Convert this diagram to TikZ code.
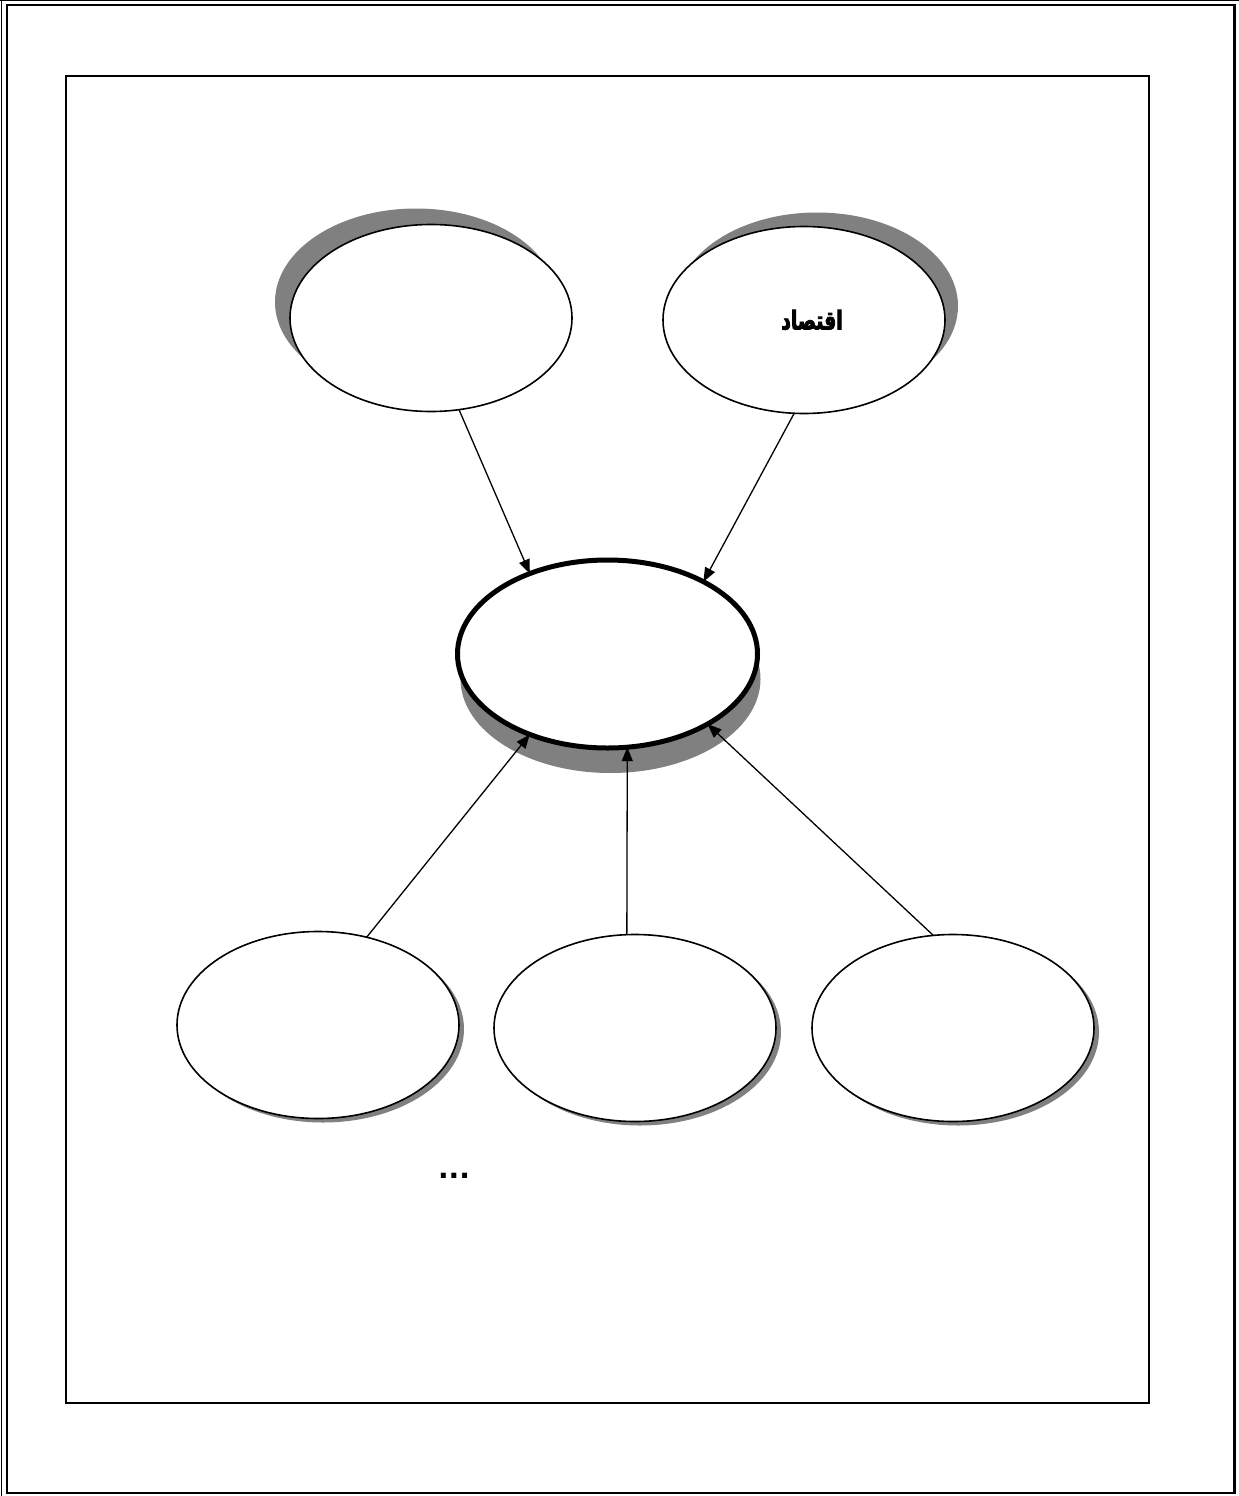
\documentclass[tikz,border=0pt]{standalone}
\usepackage{fontspec}
\TeXXeTstate=1
\newfontfamily\arabicheavy[Script=Arabic, UprightFont={* Bold},
  UprightFeatures={FakeBold=3, FakeStretch=0.72}]{DejaVu Sans}
\newfontfamily\dotfont{DejaVu Sans}
\usetikzlibrary{shapes.geometric,arrows.meta,shadows}
\definecolor{shadowgray}{RGB}{128,128,128}

\begin{document}
\begin{tikzpicture}[x=1pt,y=-1pt,
  bubble/.style={ellipse, draw, fill=white, line width=1.6pt, inner sep=0pt,
    outer sep=0pt, minimum width=282pt, minimum height=187pt},
  core/.style={bubble, line width=5pt, minimum width=300pt, minimum height=188pt},
  castshadow/.style 2 args={drop shadow={shadow xshift=#1, shadow yshift=#2,
    fill=shadowgray, opacity=1}},
  link/.style={line width=1.3pt, -{Triangle[length=14pt,width=11pt]}}
]
\useasboundingbox (0,0) rectangle (1239,1496);

% page border
\draw[line width=1.2pt] (1.5,0) -- (1.5,1496);
\draw[line width=1.2pt] (0,0.7) -- (1239,0.7);
\draw[line width=2.4pt] (7,5) rectangle (1234.5,1493);

% inner frame
\draw[line width=2.2pt] (66,76) rectangle (1149,1403);

% top bubbles
\node[bubble, castshadow={-15pt}{16pt}] (tl) at (431,318) {};
\node[bubble, castshadow={13pt}{14pt}] (tr) at (804,320) {};
\node[font=\arabicheavy\fontsize{26}{30}\selectfont] (econ) at (812,320) {\beginR اقتصاد\endR};

% central bubble
\node[core, castshadow={3pt}{-25pt}] (c) at (607.5,654) {};

% bottom bubbles
\node[bubble, castshadow={5pt}{-4pt}] (bl) at (318,1025) {};
\node[bubble, castshadow={5pt}{-4pt}] (bm) at (635,1028) {};
\node[bubble, castshadow={5pt}{-4pt}] (br) at (953,1028) {};

% connectors
\draw[link] (tl.-73.6) -- (c.134.8);
\draw[link] (tr.-96.6) -- (c.37.8);
\draw[link] (bl.61.9) -- (c.-134.5);
\draw[link] (bm.95.5) -- (c.-78.9);
\draw[link] (br.102.9) -- (c.-35.8);

% continuation mark
\node[font=\dotfont\bfseries\fontsize{28}{30}\selectfont, anchor=base, inner sep=0pt] (more) at (454,1178.5) {...};
\end{tikzpicture}
\end{document}
